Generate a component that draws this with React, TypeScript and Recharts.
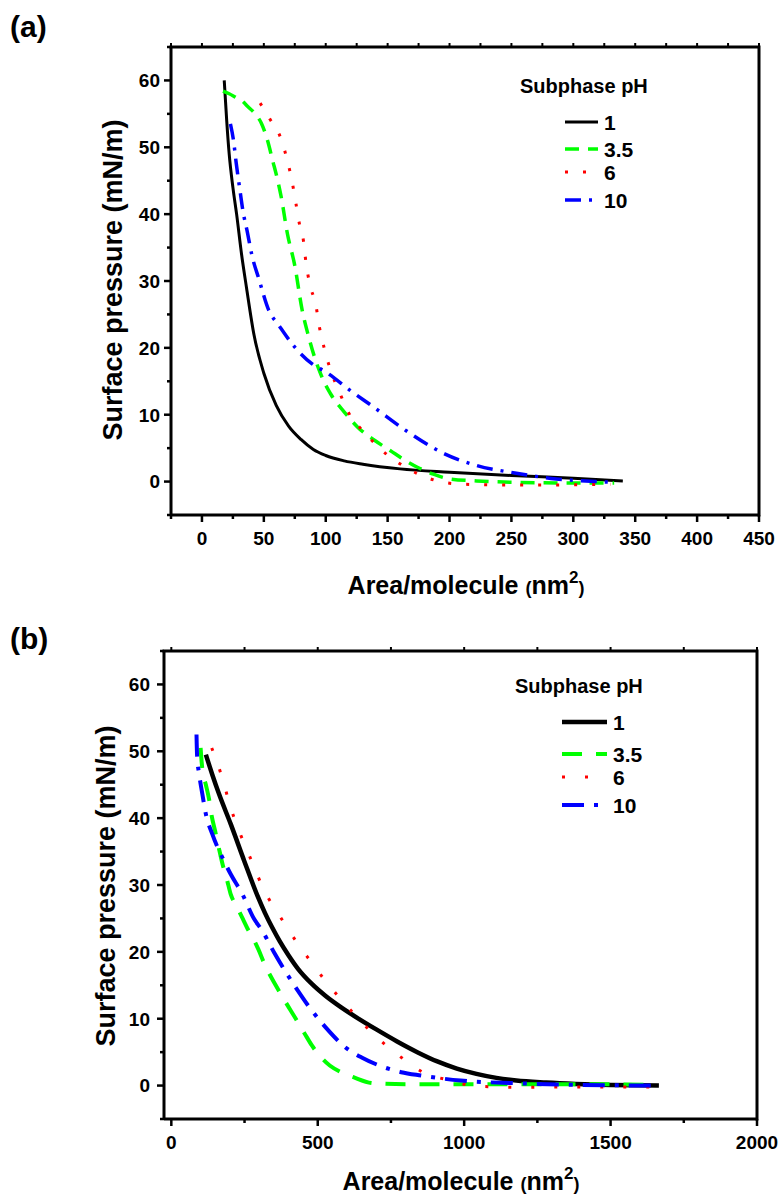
import React from "react";
import { LineChart, Line, XAxis, YAxis } from "recharts";

const FONT = "'Liberation Sans', Arial, Helvetica, sans-serif";

// legend labels (subphase pH)
const phLabels = ["1", "3.5", "6", "10"];

// panel (a): area/molecule (nm2) vs surface pressure (mN/m)
const aPh1Area = [18, 20, 22, 25, 28, 32, 36, 42, 50, 60, 70, 80, 90, 100, 115, 130, 160, 200, 250, 300, 340];
const aPh1Pressure = [60, 54, 49, 44, 40, 34, 29, 22, 16.2, 11.4, 8.3, 6.3, 4.8, 3.9, 3.1, 2.6, 1.9, 1.4, 0.9, 0.5, 0.1];

const aPh35Area = [17, 22, 27, 32, 37, 43, 48, 53, 57, 61, 64, 69, 75, 81, 86, 91, 97, 104, 115, 126, 140, 152, 163, 174, 187, 200, 222, 250, 290, 333];
const aPh35Pressure = [58.4, 58, 57.5, 57, 56.1, 55, 53.6, 51, 48.1, 45.2, 42.6, 37.1, 32.3, 25.6, 21.8, 18.6, 15.6, 13.1, 10.4, 8.1, 6.1, 4.65, 3.3, 2.15, 1.1, 0.4, 0.1, -0.1, -0.2, -0.2];

const aPh6Area = [47, 55, 64, 69, 73, 76, 79, 82, 84, 87, 92, 95, 99, 104, 111, 119, 131, 144, 158, 174, 188, 206, 240, 280, 330];
const aPh6Pressure = [56.6, 54.2, 51.2, 48, 44.7, 41.5, 38.3, 36, 32.8, 29.6, 26.4, 23, 19.8, 16.6, 13.4, 10.1, 7.4, 4.9, 2.9, 1.2, 0.2, -0.35, -0.5, -0.5, -0.4];

const aPh10Area = [23, 25.5, 27.7, 30.3, 33, 36.8, 40.3, 46, 54, 62, 75, 89, 100, 120, 139, 165, 196, 222, 254, 286, 318, 332];
const aPh10Pressure = [53.5, 51, 47.6, 44.1, 40.6, 37.2, 33.9, 30.3, 25.6, 23.4, 20.1, 17.6, 16.4, 13.6, 11.1, 7.6, 4.15, 2.4, 1.25, 0.4, 0, -0.1];

// panel (b)
const bPh1Area = [118, 140, 163, 203, 249, 294, 320, 345, 370, 400, 432, 480, 527, 580, 636, 700, 771, 840, 906, 975, 1042, 1110, 1178, 1280, 1381, 1500, 1665];
const bPh1Pressure = [49.5, 46.5, 43.6, 39.1, 33.6, 28.4, 25.8, 23.6, 21.6, 19.5, 17.5, 15.2, 13.4, 11.7, 10.1, 8.4, 6.6, 5.0, 3.65, 2.55, 1.75, 1.15, 0.75, 0.45, 0.25, 0.1, 0];

const bPh35Area = [100, 106, 118, 129, 138, 150, 161, 175, 190, 203, 222, 240, 260, 283, 297, 320, 358, 390, 425, 455, 480, 510, 541, 580, 622, 690, 800, 1000, 1200, 1400, 1660];
const bPh35Pressure = [50.5, 47.3, 45, 42.8, 40.3, 38, 35.8, 33.1, 30.8, 28.6, 26.9, 25.3, 23.5, 21.7, 20.4, 18, 14.9, 12.5, 10, 7.8, 6, 4.3, 3, 2, 1.25, 0.35, 0.2, 0.2, 0.2, 0.2, 0.1];

const bPh6Area = [138, 174, 201, 235, 275, 317, 374, 432, 462, 531, 606, 683, 771, 859, 954, 1042, 1190, 1400, 1660];
const bPh6Pressure = [50.5, 46, 41.8, 37.7, 33.5, 29.2, 25.1, 21.2, 19.4, 15.4, 11.6, 8, 4.7, 2, 0.75, -0.1, -0.25, -0.2, -0.2];

const bPh10Area = [86, 88, 95, 106, 118, 140, 180, 203, 243, 283, 310, 351, 392, 432, 480, 527, 595, 650, 710, 785, 853, 988, 1178, 1400, 1650];
const bPh10Pressure = [52.5, 49.3, 46.6, 43.6, 40.6, 37.6, 33.6, 31.6, 28.6, 24.9, 23.2, 19.9, 16.9, 14.2, 11.2, 8.7, 5.7, 4.2, 3, 2, 1.5, 0.75, 0.35, 0.1, 0];

// axis ticks
const aXTicks = [-25, 0, 25, 50, 75, 100, 125, 150, 175, 200, 225, 250, 275, 300, 325, 350, 375, 400, 425, 450];
const aXLabels = [0, 50, 100, 150, 200, 250, 300, 350, 400, 450];
const bXTicks = [0, 250, 500, 750, 1000, 1250, 1500, 1750, 2000];
const bXLabels = [0, 500, 1000, 1500, 2000];
const yTicks = [-5, 0, 5, 10, 15, 20, 25, 30, 35, 40, 45, 50, 55, 60, 65];
const yLabels = [0, 10, 20, 30, 40, 50, 60];
const yDomain: [number, number] = [-5, 65];

const toPoints = (xs: number[], ys: number[]) => xs.map((x, i) => ({ x, y: ys[i] }));

type Series = { name: string; data: { x: number; y: number }[]; stroke: string; width: number; dash?: string };

const aSeries: Series[] = [
  { name: phLabels[0], data: toPoints(aPh1Area, aPh1Pressure), stroke: "#000000", width: 3 },
  { name: phLabels[1], data: toPoints(aPh35Area, aPh35Pressure), stroke: "#00ff00", width: 3.5, dash: "14 9" },
  { name: phLabels[2], data: toPoints(aPh6Area, aPh6Pressure), stroke: "#ff0000", width: 3, dash: "3 15" },
  { name: phLabels[3], data: toPoints(aPh10Area, aPh10Pressure), stroke: "#0000ff", width: 3.5, dash: "16 8 3 8" },
];

const bSeries: Series[] = [
  { name: phLabels[0], data: toPoints(bPh1Area, bPh1Pressure), stroke: "#000000", width: 4.5 },
  { name: phLabels[1], data: toPoints(bPh35Area, bPh35Pressure), stroke: "#00ff00", width: 4, dash: "20 14" },
  { name: phLabels[2], data: toPoints(bPh6Area, bPh6Pressure), stroke: "#ff0000", width: 3, dash: "3 20" },
  { name: phLabels[3], data: toPoints(bPh10Area, bPh10Pressure), stroke: "#0000ff", width: 4, dash: "22 10 4 10" },
];

const AXIS = { stroke: "#000", strokeWidth: 3 };
const tickText = { fontFamily: FONT, fontWeight: 700, fontSize: 19, fill: "#000" };
const Y_AXIS_W = 60;
const X_AXIS_H = 40;

type PanelProps = {
  top: number;
  height: number;
  letter: string;
  letterY: number;
  margin: { top: number; right: number; bottom: number; left: number };
  xDomain: [number, number];
  xTicks: number[];
  xLabels: number[];
  yLabelGap: number;
  series: Series[];
  xTitle: { x: number; y: number };
  yTitle: { x: number; y: number };
  legend: { x: number; y: number; rows: number[]; x1: number; x2: number };
};

const Panel = (p: PanelProps) => {
  const [d0, d1] = p.xDomain;
  // plot box, the same one recharts gets from the margins and axis sizes
  const boxL = p.margin.left + Y_AXIS_W;
  const boxT = p.margin.top;
  const boxW = 781 - p.margin.right - boxL;
  const boxH = p.height - p.margin.bottom - X_AXIS_H - boxT;

  const bottomTick = (props: any) => {
    const { x, y, payload } = props;
    const major = p.xLabels.includes(payload.value);
    return (
      <g>
        <line x1={x} x2={x} y1={y} y2={y + (major ? 7 : 4)} stroke="#000" strokeWidth={2.5} />
        {major && (
          <text x={x} y={y + 30} textAnchor="middle" {...tickText}>
            {payload.value}
          </text>
        )}
      </g>
    );
  };
  const leftTick = (props: any) => {
    const { x, y, payload } = props;
    const major = yLabels.includes(payload.value);
    return (
      <g>
        <line x1={x} x2={x - (major ? 7 : 4)} y1={y} y2={y} stroke="#000" strokeWidth={2.5} />
        {major && (
          <text x={x - p.yLabelGap} y={y} dy="0.36em" textAnchor="end" {...tickText}>
            {payload.value}
          </text>
        )}
      </g>
    );
  };

  return (
    <div style={{ position: "absolute", left: 0, top: p.top, width: 781, height: p.height }}>
      <LineChart width={781} height={p.height} margin={p.margin}>
        <XAxis
          type="number"
          dataKey="x"
          domain={p.xDomain}
          ticks={p.xTicks}
          interval={0}
          tick={bottomTick}
          tickLine={false}
          tickSize={0}
          tickMargin={0}
          height={X_AXIS_H}
          axisLine={AXIS}
        />
        <YAxis
          type="number"
          domain={yDomain}
          ticks={yTicks}
          interval={0}
          tick={leftTick}
          tickLine={false}
          tickSize={0}
          tickMargin={0}
          width={Y_AXIS_W}
          axisLine={AXIS}
        />
        {p.series.map((s) => (
          <Line
            key={s.name}
            data={s.data}
            dataKey="y"
            name={s.name}
            type="monotone"
            stroke={s.stroke}
            strokeWidth={s.width}
            strokeDasharray={s.dash}
            dot={false}
            activeDot={false}
            isAnimationActive={false}
          />
        ))}
      </LineChart>

      <svg width={781} height={p.height} style={{ position: "absolute", left: 0, top: 0, pointerEvents: "none" }}>
        {/* top and right edges of the frame, with the small mirrored ticks on top */}
        <polyline
          points={`${boxL - 1.5},${boxT} ${boxL + boxW},${boxT} ${boxL + boxW},${boxT + boxH + 1.5}`}
          fill="none"
          stroke="#000"
          strokeWidth={3}
        />
        {p.xTicks.map((t) => {
          const tx = boxL + ((t - d0) / (d1 - d0)) * boxW;
          return <line key={t} x1={tx} x2={tx} y1={boxT} y2={boxT - 4} stroke="#000" strokeWidth={2} />;
        })}
        <text x={10} y={p.letterY} fontFamily={FONT} fontWeight={700} fontSize={30} fill="#000">
          {p.letter}
        </text>
        <text x={p.xTitle.x} y={p.xTitle.y} textAnchor="middle" fontFamily={FONT} fontWeight={700} fontSize={25} fill="#000">
          Area/molecule <tspan fontSize={18}>(</tspan>nm
          <tspan dy={-11} fontSize={17}>2</tspan>
          <tspan dy={11} fontSize={18}>)</tspan>
        </text>
        <text
          transform={`translate(${p.yTitle.x},${p.yTitle.y}) rotate(-90)`}
          textAnchor="middle"
          fontFamily={FONT}
          fontWeight={700}
          fontSize={27}
          fill="#000"
        >
          Surface pressure (mN/m)
        </text>
        <text x={p.legend.x} y={p.legend.y} fontFamily={FONT} fontWeight={700} fontSize={20} fill="#000">
          Subphase pH
        </text>
        {p.series.map((s, i) => (
          <g key={s.name}>
            <line
              x1={p.legend.x1}
              x2={p.legend.x2}
              y1={p.legend.rows[i]}
              y2={p.legend.rows[i]}
              stroke={s.stroke}
              strokeWidth={s.width}
              strokeDasharray={s.dash}
            />
            <text x={p.legend.x2 + 6} y={p.legend.rows[i] + 8} fontFamily={FONT} fontWeight={700} fontSize={21} fill="#000">
              {s.name}
            </text>
          </g>
        ))}
      </svg>
    </div>
  );
};

export default function App() {
  return (
    <div style={{ position: "absolute", left: 0, top: 0, width: 781, height: 1196, background: "#fff" }}>
      <Panel
        top={0}
        height={600}
        letter="(a)"
        letterY={37}
        margin={{ top: 47, right: 22, bottom: 45, left: 111 }}
        xDomain={[-25, 450]}
        xTicks={aXTicks}
        xLabels={aXLabels}
        yLabelGap={11}
        series={aSeries}
        xTitle={{ x: 466, y: 594 }}
        yTitle={{ x: 122, y: 280 }}
        legend={{ x: 520, y: 93, rows: [122, 149, 172, 200], x1: 565, x2: 598 }}
      />
      <Panel
        top={600}
        height={596}
        letter="(b)"
        letterY={49}
        margin={{ top: 51, right: 24, bottom: 37, left: 104 }}
        xDomain={[-25, 2000]}
        xTicks={bXTicks}
        xLabels={bXLabels}
        yLabelGap={14}
        series={bSeries}
        xTitle={{ x: 461, y: 590 }}
        yTitle={{ x: 115, y: 286 }}
        legend={{ x: 515, y: 93, rows: [122, 154, 177, 205], x1: 562, x2: 607 }}
      />
    </div>
  );
}
